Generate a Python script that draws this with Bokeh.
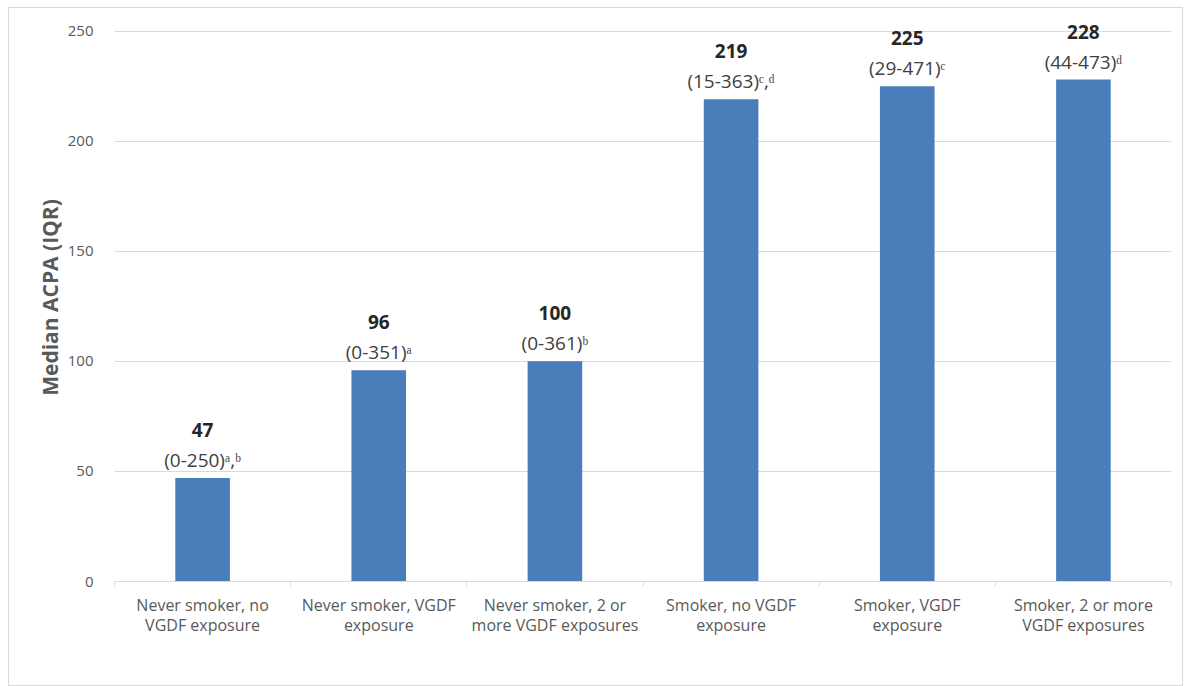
from bokeh.plotting import figure
from bokeh.models import ColumnDataSource, Range1d, FixedTicker, LabelSet
from bokeh.core.properties import value
from bokeh.embed import file_html
from bokeh.resources import INLINE

categories = [
    "Never smoker, no\nVGDF exposure",
    "Never smoker, VGDF\nexposure",
    "Never smoker, 2 or\nmore VGDF exposures",
    "Smoker, no VGDF\nexposure",
    "Smoker, VGDF\nexposure",
    "Smoker, 2 or more\nVGDF exposures",
]
medians = [47, 96, 100, 219, 225, 228]
iqr_labels = ["(0-250)", "(0-351)", "(0-361)", "(15-363)", "(29-471)", "(44-473)"]
superscripts = ["ᵃ,ᵇ", "ᵃ", "ᵇ", "ᶜ,ᵈ", "ᶜ", "ᵈ"]
y_ticks = [0, 50, 100, 150, 200, 250]

FONT = "Open Sans"
GREY = "#595959"
DARK = "#404040"

xs = [i + 0.5 for i in range(len(categories))]
source = ColumnDataSource(dict(
    x=xs,
    top=medians,
    val=[str(m) for m in medians],
    iqr=[a + b for a, b in zip(iqr_labels, superscripts)],
))

p = figure(width=1175, height=679, output_backend="svg", toolbar_location=None,
           x_range=Range1d(0, len(categories)), y_range=Range1d(0, 258))
p.min_border_left = 105
p.min_border_right = 13
p.min_border_top = 5
p.min_border_bottom = 106
p.outline_line_color = None
p.styles = {"border": "1px solid #d9d9d9", "margin-left": "8px", "margin-top": "7px"}

p.vbar(x="x", top="top", width=0.31, source=source, fill_color="#4a7ebb", line_color=None)

p.add_layout(LabelSet(x="x", y="top", text="iqr", source=source, y_offset=18,
                      text_align="center", text_baseline="middle",
                      text_font=value(FONT), text_font_size="19px", text_color=DARK))
p.add_layout(LabelSet(x="x", y="top", text="val", source=source, y_offset=48,
                      text_align="center", text_baseline="middle",
                      text_font=value(FONT), text_font_size="19px", text_font_style="bold",
                      text_color="#262626"))

# y axis
p.yaxis.ticker = FixedTicker(ticks=y_ticks)
p.yaxis.axis_line_color = None
p.yaxis.major_tick_line_color = None
p.yaxis.minor_tick_line_color = None
p.yaxis.major_label_standoff = 15
p.yaxis.major_label_text_font = FONT
p.yaxis.major_label_text_font_size = "15px"
p.yaxis.major_label_text_color = GREY
p.yaxis.axis_label = "Median ACPA (IQR)"
p.yaxis.axis_label_text_font = FONT
p.yaxis.axis_label_text_font_size = "21px"
p.yaxis.axis_label_text_font_style = "bold"
p.yaxis.axis_label_text_color = GREY
p.yaxis.axis_label_standoff = 1

# x axis
p.xaxis.ticker = FixedTicker(ticks=xs, minor_ticks=list(range(len(categories) + 1)))
p.xaxis.major_label_overrides = {x: c for x, c in zip(xs, categories)}
p.xaxis.axis_line_color = "#d9d9d9"
p.xaxis.major_tick_line_color = None
p.xaxis.minor_tick_line_color = "#d9d9d9"
p.xaxis.minor_tick_in = 0
p.xaxis.minor_tick_out = 5
p.xaxis.major_label_standoff = 6
p.xaxis.major_label_text_font = FONT
p.xaxis.major_label_text_font_size = "16px"
p.xaxis.major_label_text_line_height = 0.92
p.xaxis.major_label_text_color = GREY

p.xgrid.grid_line_color = None
p.ygrid.ticker = FixedTicker(ticks=y_ticks)
p.ygrid.grid_line_color = "#d9d9d9"

open("out.html", "w").write(file_html(p, INLINE))
